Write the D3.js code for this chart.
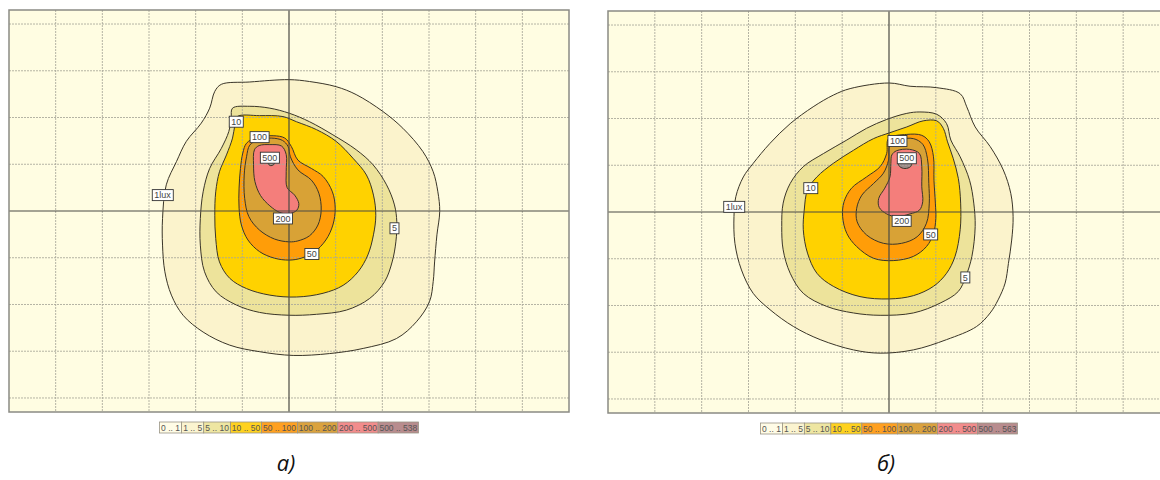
<!DOCTYPE html>
<html>
<head>
<meta charset="utf-8">
<script src="https://cdn.jsdelivr.net/npm/d3@7"></script>
<style>
  body { margin: 0; background: #fff; }
  svg { display: block; font-family: "Liberation Sans", Arial, sans-serif; }
</style>
</head>
<body>
<svg id="chart" width="1160" height="480"></svg>
<script>
// isolux levels, lux
const levels = [1, 5, 10, 50, 100, 200, 500];

// contour outlines, grid units (x right, y up, 0 = luminaire)
const a1 = [[-1.45,2.71],[-0.84,2.76],[0,2.81],[0.44,2.77],[1.01,2.66],[1.44,2.49],[2.01,2.13],[2.44,1.77],[2.87,1.27],[3.09,0.84],[3.19,0.41],[3.23,-0.01],[3.17,-0.51],[3.12,-1.09],[3.09,-1.51],[3.01,-1.94],[2.73,-2.37],[2.30,-2.73],[1.59,-2.94],[0.87,-3.05],[0.09,-3.09],[-0.63,-3.01],[-1.27,-2.87],[-1.84,-2.59],[-2.27,-2.23],[-2.52,-1.80],[-2.66,-1.30],[-2.71,-0.73],[-2.71,-0.16],[-2.63,0.56],[-2.41,1.06],[-2.20,1.49],[-1.88,1.88],[-1.70,2.20],[-1.59,2.56]];
const a5 = [[-1.21,2.20],[-0.84,2.24],[-0.41,2.20],[0.01,2.09],[0.44,1.91],[0.94,1.63],[1.44,1.31],[1.80,0.99],[2.09,0.56],[2.26,0.13],[2.31,-0.23],[2.29,-0.66],[2.21,-1.09],[2.05,-1.51],[1.73,-1.87],[1.23,-2.12],[0.59,-2.21],[0,-2.23],[-0.63,-2.17],[-1.13,-2.01],[-1.56,-1.73],[-1.81,-1.30],[-1.90,-0.73],[-1.90,-0.16],[-1.84,0.41],[-1.70,0.91],[-1.45,1.34],[-1.29,1.70],[-1.24,1.99]];
const a10 = [[-1.11,2.02],[-0.63,2.04],[-0.13,2.02],[0.16,1.91],[0.59,1.74],[1.01,1.49],[1.37,1.13],[1.66,0.77],[1.81,0.34],[1.86,-0.09],[1.81,-0.51],[1.69,-0.94],[1.48,-1.30],[1.16,-1.59],[0.73,-1.76],[0.16,-1.84],[-0.41,-1.80],[-0.91,-1.66],[-1.27,-1.44],[-1.49,-1.09],[-1.57,-0.59],[-1.59,-0.09],[-1.57,0.41],[-1.49,0.84],[-1.34,1.20],[-1.21,1.56],[-1.16,1.84]];
const a50 = [[-0.91,1.45],[-0.70,1.57],[-0.34,1.61],[-0.09,1.56],[0.05,1.38],[0.19,1.09],[0.48,0.91],[0.73,0.74],[0.93,0.41],[0.99,0.06],[0.94,-0.30],[0.79,-0.62],[0.55,-0.87],[0.26,-1.01],[0,-1.05],[-0.31,-1.01],[-0.63,-0.87],[-0.88,-0.62],[-1.02,-0.30],[-1.07,0.06],[-1.07,0.49],[-1.04,0.91],[-0.99,1.24]];
const a100 = [[-0.84,1.41],[-0.66,1.52],[-0.38,1.56],[-0.14,1.51],[-0.02,1.38],[0.03,1.16],[0.19,0.88],[0.48,0.66],[0.64,0.38],[0.69,0.02],[0.62,-0.30],[0.44,-0.53],[0.19,-0.64],[0,-0.66],[-0.31,-0.60],[-0.63,-0.41],[-0.86,-0.12],[-0.95,0.27],[-0.96,0.77],[-0.91,1.16]];
const a200 = [[-0.74,1.31],[-0.64,1.40],[-0.41,1.42],[-0.16,1.39],[-0.06,1.21],[-0.06,0.84],[-0.04,0.50],[0.12,0.34],[0.21,0.16],[0.17,0.02],[0,-0.06],[-0.20,-0.03],[-0.41,0.11],[-0.61,0.33],[-0.73,0.63],[-0.76,0.99]];
const a500 = [[-0.45,1.06],[-0.31,1.06],[-0.33,0.99],[-0.39,0.97],[-0.43,0.99]];

const b1 = [[-0.83,2.64],[0,2.76],[0.45,2.69],[1.02,2.66],[1.52,2.53],[1.66,2.25],[1.84,1.82],[2.16,1.40],[2.44,0.90],[2.60,0.40],[2.65,-0.10],[2.62,-0.60],[2.55,-1.10],[2.48,-1.52],[2.33,-1.88],[2.16,-2.16],[1.87,-2.45],[1.23,-2.73],[0.52,-2.95],[-0.19,-3.02],[-0.76,-2.95],[-1.47,-2.73],[-2.04,-2.45],[-2.54,-2.09],[-2.90,-1.74],[-3.15,-1.24],[-3.29,-0.67],[-3.31,-0.10],[-3.27,0.33],[-3.11,0.75],[-2.90,1.04],[-2.54,1.47],[-2.11,1.89],[-1.62,2.25],[-1.19,2.50]];
const b5 = [[0.38,2.11],[0.66,2.14],[1.02,2.09],[1.23,1.89],[1.32,1.54],[1.52,1.18],[1.72,0.68],[1.81,0.19],[1.84,-0.31],[1.77,-0.95],[1.64,-1.38],[1.48,-1.70],[1.09,-1.95],[0.52,-2.16],[-0.19,-2.21],[-0.76,-2.16],[-1.33,-2.02],[-1.83,-1.74],[-2.11,-1.31],[-2.26,-0.81],[-2.29,-0.31],[-2.26,0.19],[-2.11,0.61],[-1.83,0.97],[-1.40,1.25],[-0.90,1.54],[-0.48,1.79],[-0.05,1.98]];
const b10 = [[0,1.69],[0.38,1.82],[0.73,1.95],[1.02,1.95],[1.16,1.79],[1.25,1.50],[1.37,1.15],[1.48,0.72],[1.53,0.19],[1.52,-0.38],[1.41,-0.95],[1.23,-1.31],[0.95,-1.59],[0.52,-1.79],[0,-1.86],[-0.62,-1.81],[-1.19,-1.59],[-1.54,-1.31],[-1.74,-0.88],[-1.83,-0.38],[-1.81,0.04],[-1.74,0.47],[-1.54,0.75],[-1.19,1.04],[-0.76,1.32],[-0.33,1.57]];
const b50 = [[-0.01,1.57],[0.38,1.66],[0.70,1.64],[0.86,1.50],[0.95,1.18],[0.96,0.68],[0.99,0.19],[1.00,-0.14],[0.95,-0.46],[0.80,-0.74],[0.52,-0.95],[0.09,-1.04],[-0.33,-0.99],[-0.69,-0.74],[-0.90,-0.46],[-0.99,-0.10],[-0.96,0.22],[-0.80,0.51],[-0.48,0.75],[-0.19,0.97],[-0.05,1.25]];
const b100 = [[0.02,1.43],[0.23,1.55],[0.52,1.57],[0.72,1.45],[0.82,1.15],[0.85,0.61],[0.86,0.19],[0.80,-0.24],[0.60,-0.53],[0.27,-0.67],[-0.12,-0.67],[-0.48,-0.49],[-0.68,-0.21],[-0.69,0.08],[-0.58,0.36],[-0.33,0.61],[-0.12,0.83],[-0.01,1.11]];
const b200 = [[0.06,1.22],[0.16,1.31],[0.44,1.34],[0.65,1.25],[0.70,0.97],[0.70,0.54],[0.72,0.22],[0.65,0.04],[0.45,-0.04],[0.16,-0.10],[-0.05,-0.04],[-0.21,0.10],[-0.22,0.29],[-0.09,0.51],[0.02,0.75],[0.04,1.04]];
const b500 = [[0.20,1.05],[0.48,1.05],[0.46,0.97],[0.34,0.93],[0.23,0.97]];

// contour label: text, x, y (grid units)
const labelsA = [["1lux",-2.71,0.34],["10",-1.13,1.91],["100",-0.63,1.58],["500",-0.41,1.14],["200",-0.13,-0.16],["50",0.49,-0.92],["5",2.26,-0.37]];
const labelsB = [["1lux",-3.31,0.11],["10",-1.67,0.51],["100",0.18,1.52],["500",0.38,1.15],["200",0.27,-0.19],["50",0.89,-0.48],["5",1.63,-1.40]];

// legend ranges
const legendA = ["0 .. 1","1 .. 5","5 .. 10","10 .. 50","50 .. 100","100 .. 200","200 .. 500","500 .. 538"];
const legendB = ["0 .. 1","1 .. 5","5 .. 10","10 .. 50","50 .. 100","100 .. 200","200 .. 500","500 .. 563"];

const captions = ["а)", "б)"];

// colours
const bg = "#fffde2";
const fillColor = d3.scaleOrdinal().domain(levels)
  .range(["#fbf3cc", "#ede39b", "#ffd200", "#ff9d08", "#d8a236", "#f47e7b", "#9c8a88"]);
const legendColor = ["#fffce6", "#fbf4d0", "#eee6a2", "#ffd21e", "#ffa020", "#daa23e", "#f28c8c", "#b88c8e"];

const svg = d3.select("#chart");

function drawPanel(p) {
  const x = d3.scaleLinear().domain([-6, 6]).range([p.left, p.left + p.w]);
  const y = d3.scaleLinear().domain([-4.3, 4.3]).range([p.top + p.h, p.top]);

  const g = svg.append("g");
  g.append("clipPath").attr("id", p.id)
    .append("rect").attr("x", p.left).attr("y", p.top).attr("width", p.w).attr("height", p.h);
  const plot = g.append("g").attr("clip-path", `url(#${p.id})`);

  plot.append("rect")
    .attr("x", p.left).attr("y", p.top).attr("width", p.w).attr("height", p.h)
    .attr("fill", bg);

  const line = d3.line()
    .x(d => x(d[0])).y(d => y(d[1]))
    .curve(d3.curveCatmullRomClosed.alpha(0.5));

  // filled isolux bands, outermost first
  plot.selectAll(".band")
    .data(p.contours)
    .enter().append("path")
    .attr("class", "band")
    .attr("d", d => line(d.pts))
    .attr("fill", d => fillColor(d.level))
    .attr("stroke", "none");

  // dashed grid
  const gx = d3.range(-5, 6).filter(v => v !== 0);
  const gy = d3.range(-4, 5).filter(v => v !== 0);
  plot.selectAll(".gx").data(gx).enter().append("line")
    .attr("x1", d => x(d)).attr("x2", d => x(d))
    .attr("y1", p.top).attr("y2", p.top + p.h)
    .attr("stroke", "#a9a89a").attr("stroke-width", 1).attr("stroke-dasharray", "2,1")
    .attr("opacity", 0.85);
  plot.selectAll(".gy").data(gy).enter().append("line")
    .attr("y1", d => y(d)).attr("y2", d => y(d))
    .attr("x1", p.left).attr("x2", p.left + p.w)
    .attr("stroke", "#a9a89a").attr("stroke-width", 1).attr("stroke-dasharray", "2,1")
    .attr("opacity", 0.85);

  // contour lines
  plot.selectAll(".iso")
    .data(p.contours)
    .enter().append("path")
    .attr("class", "iso")
    .attr("d", d => line(d.pts))
    .attr("fill", "none")
    .attr("stroke", "#3a3528")
    .attr("stroke-width", 1);

  // centre cross
  plot.append("line")
    .attr("x1", x(0)).attr("x2", x(0)).attr("y1", p.top).attr("y2", p.top + p.h)
    .attr("stroke", "#4a4a44").attr("stroke-width", 1.2);
  plot.append("line")
    .attr("y1", y(0)).attr("y2", y(0)).attr("x1", p.left).attr("x2", p.left + p.w)
    .attr("stroke", "#4a4a44").attr("stroke-width", 1.2);

  // contour labels
  const lab = plot.selectAll(".lab")
    .data(p.labels)
    .enter().append("g")
    .attr("class", "lab")
    .attr("transform", d => `translate(${x(d[1])},${y(d[2])})`);
  lab.append("text")
    .attr("text-anchor", "middle")
    .attr("dy", "0.35em")
    .style("font-size", "9px")
    .attr("fill", "#444")
    .text(d => d[0]);
  lab.each(function () {
    const t = d3.select(this).select("text");
    const bb = t.node().getBBox();
    d3.select(this).insert("rect", "text")
      .attr("x", bb.x - 2).attr("y", -5.5)
      .attr("width", bb.width + 4).attr("height", 11)
      .attr("fill", "#fff").attr("stroke", "#333").attr("stroke-width", 0.9);
  });

  // frame
  g.append("rect")
    .attr("x", p.left).attr("y", p.top).attr("width", p.w).attr("height", p.h)
    .attr("fill", "none").attr("stroke", "#8a8a84").attr("stroke-width", 1.5);

  // legend: cell widths follow the text, scaled to the legend's total width
  const leg = svg.append("g");
  const cells = leg.selectAll(".cell")
    .data(p.legend)
    .enter().append("g").attr("class", "cell");
  cells.append("text")
    .attr("y", p.legendY + 8.5)
    .style("font-size", "8.5px")
    .attr("fill", "#555")
    .text(d => d);
  const raw = [];
  cells.select("text").each(function () { raw.push(this.getComputedTextLength() + 4); });
  const k = p.legendW / d3.sum(raw);
  const widths = raw.map(w => w * k);
  let cx = x(0) - p.legendW / 2;
  cells.each(function (d, i) {
    const c = d3.select(this);
    c.insert("rect", "text")
      .attr("x", cx).attr("y", p.legendY)
      .attr("width", widths[i]).attr("height", 11)
      .attr("fill", legendColor[i]).attr("stroke", "#9a9585").attr("stroke-width", 0.8);
    c.select("text").attr("x", cx + widths[i] / 2).attr("text-anchor", "middle");
    cx += widths[i];
  });

  // caption
  svg.append("text")
    .attr("x", x(0) - 3).attr("y", p.captionY)
    .attr("text-anchor", "middle")
    .style("font-size", "22px")
    .style("font-style", "italic")
    .style("font-family", "'Open Sans', 'Liberation Sans', sans-serif")
    .attr("fill", "#111")
    .text(p.caption);
}

const toContours = list => list.map(([level, pts]) => ({ level, pts }));

drawPanel({
  id: "clipA", left: 9, top: 10, w: 560, h: 402,
  contours: toContours([[1, a1], [5, a5], [10, a10], [50, a50], [100, a100], [200, a200], [500, a500]]),
  labels: labelsA, legend: legendA, legendY: 422, legendW: 259, caption: captions[0], captionY: 471
});
drawPanel({
  id: "clipB", left: 608, top: 11, w: 562, h: 402,
  contours: toContours([[1, b1], [5, b5], [10, b10], [50, b50], [100, b100], [200, b200], [500, b500]]),
  labels: labelsB, legend: legendB, legendY: 423, legendW: 257, caption: captions[1], captionY: 471
});
</script>
</body>
</html>
